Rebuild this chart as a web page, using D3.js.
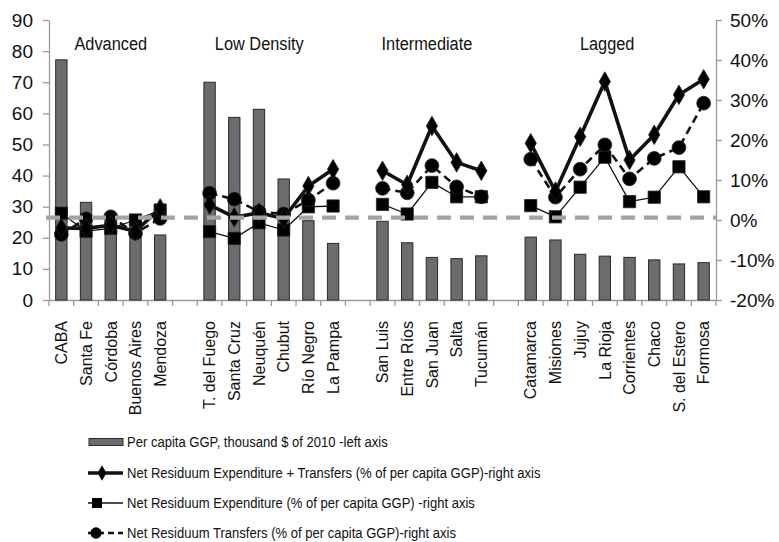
<!DOCTYPE html>
<html>
<head>
<meta charset="utf-8">
<script src="https://cdn.jsdelivr.net/npm/d3@7"></script>
<style>
  html, body { margin: 0; padding: 0; background: #fff; }
  svg { display: block; }
</style>
</head>
<body>
<svg id="chart" width="779" height="542"></svg>
<script>
// ---------------- DATA ----------------
const groupNames = ["Advanced", "Low Density", "Intermediate", "Lagged"];
const groupSizes = [5, 6, 5, 8];
const categories = [
  "CABA", "Santa Fe", "Córdoba", "Buenos Aires", "Mendoza",
  "T. del Fuego", "Santa Cruz", "Neuquén", "Chubut", "Río Negro", "La Pampa",
  "San Luis", "Entre Ríos", "San Juan", "Salta", "Tucumán",
  "Catamarca", "Misiones", "Jujuy", "La Rioja", "Corrientes", "Chaco", "S. del Estero", "Formosa"
];
// Per capita GGP, thousand $ of 2010 (left axis)
const ggp = [
  77.2, 31.4, 27.0, 27.3, 20.9,
  70.0, 58.7, 61.3, 38.9, 25.5, 18.2,
  25.3, 18.4, 13.7, 13.3, 14.2,
  20.2, 19.3, 14.7, 14.1, 13.7, 12.9, 11.6, 12.0
];
// Net Residuum Expenditure + Transfers (% of per capita GGP, right axis)
const totalPct = [
  -2.0, -2.1, -1.3, -2.8, 2.9,
  3.8, 0.7, 1.8, 0.4, 8.5, 12.7,
  12.3, 8.8, 23.5, 14.4, 12.3,
  19.2, 7.1, 20.8, 34.6, 15.0, 21.3, 31.3, 35.2
];
// Net Residuum Expenditure (% of per capita GGP, right axis)
const expPct = [
  1.7, -2.8, -2.1, 0.0, 2.5,
  -2.9, -4.6, -0.7, -2.5, 3.3, 3.5,
  3.9, 1.5, 9.4, 5.8, 5.8,
  3.6, 0.8, 8.2, 15.7, 4.6, 5.7, 13.3, 5.8
];
// Net Residuum Transfers (% of per capita GGP, right axis)
const trfPct = [
  -3.6, 0.3, 0.8, -3.3, 0.4,
  6.7, 5.2, 2.1, 1.5, 5.0, 9.2,
  7.9, 6.8, 13.6, 8.3, 5.8,
  15.2, 5.7, 12.7, 18.8, 10.3, 15.4, 18.1, 29.2
];
const leftTicks = [0, 10, 20, 30, 40, 50, 60, 70, 80, 90];
const rightTicks = [-20, -10, 0, 10, 20, 30, 40, 50];
const referenceLevel = 26.5; // grey dashed reference (left axis units)
const legendLabels = [
  "Per capita GGP, thousand $ of 2010 -left axis",
  "Net Residuum Expenditure + Transfers (% of per capita GGP)-right axis",
  "Net Residuum Expenditure (% of per capita GGP) -right axis",
  "Net Residuum Transfers (% of per capita GGP)-right axis"
];

// ---------------- BUILD ----------------
const slots = [];
const rows = [];
let ci = 0;
groupSizes.forEach((n, g) => {
  for (let k = 0; k < n; k++) {
    slots.push(categories[ci]);
    rows.push({cat: categories[ci], g, ggp: ggp[ci], total: totalPct[ci], exp: expPct[ci], trf: trfPct[ci]});
    ci++;
  }
  if (g < groupSizes.length - 1) slots.push("__gap" + g);
});

const svg = d3.select("#chart");
const L = 49, R = 716, T = 20, B = 300;

const x = d3.scaleBand().domain(slots).range([L, R]).paddingInner(0).paddingOuter(0);
const yL = d3.scaleLinear().domain([0, 90]).range([B, T]);
const yR = d3.scaleLinear().domain([-20, 50]).range([B, T]);
const cx = d => x(d.cat) + x.bandwidth() / 2;

const axisColor = "#9a9a9a";
const sansFont = "Liberation Sans, Arial, sans-serif";

// left axis
const gL = svg.append("g").attr("transform", `translate(${L},0)`)
  .call(d3.axisLeft(yL).tickValues(leftTicks).tickSize(6).tickPadding(10).tickSizeOuter(0));
gL.select(".domain").attr("stroke", axisColor).attr("stroke-width", 1.3);
gL.selectAll(".tick line").attr("stroke", axisColor).attr("stroke-width", 1.3);
gL.selectAll(".tick text").attr("font-family", sansFont).attr("font-size", 19).attr("fill", "#111");

// right axis
const gR = svg.append("g").attr("transform", `translate(${R},0)`)
  .call(d3.axisRight(yR).tickValues(rightTicks).tickSize(6).tickPadding(8).tickSizeOuter(0)
    .tickFormat(d => d + "%"));
gR.select(".domain").attr("stroke", axisColor).attr("stroke-width", 1.3);
gR.selectAll(".tick line").attr("stroke", axisColor).attr("stroke-width", 1.3);
gR.selectAll(".tick text").attr("font-family", sansFont).attr("font-size", 19).attr("fill", "#111");

// x axis baseline with boundary ticks
const gX = svg.append("g").attr("transform", `translate(0,${B})`)
  .call(d3.axisBottom(x).tickSize(0).tickFormat(""));
gX.select(".domain").attr("stroke", axisColor).attr("stroke-width", 1.3);
gX.selectAll(".tick").remove();
const bounds = slots.map(s => x(s)).concat([R]);
gX.selectAll("line.bt").data(bounds).enter().append("line")
  .attr("x1", d => d).attr("x2", d => d).attr("y1", 0).attr("y2", 6)
  .attr("stroke", axisColor).attr("stroke-width", 1.3);

// category labels (rotated)
svg.append("g").selectAll("text").data(rows).enter().append("text")
  .attr("transform", d => `translate(${cx(d)},${B + 21}) rotate(-90)`)
  .attr("dy", "0.36em")
  .attr("text-anchor", "end")
  .attr("font-family", sansFont).attr("font-size", 16).attr("fill", "#111")
  .text(d => d.cat);

// bars
const bw = x.bandwidth() * 0.46;
svg.append("g").selectAll("rect").data(rows).enter().append("rect")
  .attr("x", d => cx(d) - bw / 2)
  .attr("y", d => yL(d.ggp))
  .attr("width", bw)
  .attr("height", d => yL(0) - yL(d.ggp))
  .attr("fill", "#6b6c6f").attr("stroke", "#2a2a2a").attr("stroke-width", 1);

// group labels (condensed look); text boxes sit slightly left of group centre
const labelShift = [0, -12, -5, -10];
groupNames.forEach((name, g) => {
  const gr = rows.filter(r => r.g === g);
  const mid = (cx(gr[0]) + cx(gr[gr.length - 1])) / 2 + labelShift[g];
  svg.append("text").attr("transform", `translate(${mid},50) scale(0.86,1)`)
    .attr("text-anchor", "middle")
    .attr("font-family", sansFont).attr("font-size", 19).attr("fill", "#111")
    .text(name);
});

// series
const lineColor = "#111";
function drawSeries(key, opts) {
  const gS = svg.append("g");
  groupNames.forEach((_, g) => {
    const gr = rows.filter(r => r.g === g);
    const line = d3.line().x(cx).y(d => yR(d[key]));
    gS.append("path").datum(gr).attr("d", line)
      .attr("fill", "none").attr("stroke", lineColor)
      .attr("stroke-width", opts.width)
      .attr("stroke-dasharray", opts.dash || null)
      .attr("stroke-linejoin", "round");
  });
  gS.selectAll("path.m").data(rows).enter().append("path")
    .attr("transform", d => `translate(${cx(d)},${yR(d[key])})`)
    .attr("d", d3.symbol().type(opts.symbol).size(opts.size))
    .attr("fill", "#000").attr("stroke", "#222").attr("stroke-width", 0.8);
}
drawSeries("exp", {width: 1.3, symbol: d3.symbolSquare, size: 150});
drawSeries("trf", {width: 2.6, dash: "8,5", symbol: d3.symbolCircle, size: 150});
drawSeries("total", {width: 3.6, symbol: d3.symbolDiamond, size: 110});

// grey dashed reference line
svg.append("line")
  .attr("x1", L - 3).attr("x2", R)
  .attr("y1", yL(referenceLevel)).attr("y2", yL(referenceLevel))
  .attr("stroke", "#a3a3a3").attr("stroke-width", 4.2)
  .attr("stroke-dasharray", "14,9");

// legend
const lg = svg.append("g");
const ly = [442, 473, 503, 533];
const tx = 127;
lg.append("rect").attr("x", 89).attr("y", ly[0] - 3.5).attr("width", 34).attr("height", 7)
  .attr("fill", "#6b6c6f").attr("stroke", "#2a2a2a").attr("stroke-width", 1);
lg.append("line").attr("x1", 88).attr("x2", 123).attr("y1", ly[1]).attr("y2", ly[1])
  .attr("stroke", lineColor).attr("stroke-width", 3.6);
lg.append("path").attr("transform", `translate(102,${ly[1]})`)
  .attr("d", d3.symbol().type(d3.symbolDiamond).size(70)).attr("fill", "#000");
lg.append("line").attr("x1", 88).attr("x2", 123).attr("y1", ly[2]).attr("y2", ly[2])
  .attr("stroke", lineColor).attr("stroke-width", 1.3);
lg.append("path").attr("transform", `translate(97,${ly[2]})`)
  .attr("d", d3.symbol().type(d3.symbolSquare).size(100)).attr("fill", "#000");
lg.append("line").attr("x1", 88).attr("x2", 123).attr("y1", ly[3]).attr("y2", ly[3])
  .attr("stroke", lineColor).attr("stroke-width", 2.4).attr("stroke-dasharray", "6,4");
lg.append("path").attr("transform", `translate(96,${ly[3]})`)
  .attr("d", d3.symbol().type(d3.symbolCircle).size(100)).attr("fill", "#000");
legendLabels.forEach((t, i) => {
  lg.append("text").attr("transform", `translate(${tx},${ly[i]}) scale(0.87,1)`)
    .attr("dy", "0.35em")
    .attr("font-family", sansFont).attr("font-size", 15).attr("fill", "#111")
    .text(t);
});
</script>
</body>
</html>
